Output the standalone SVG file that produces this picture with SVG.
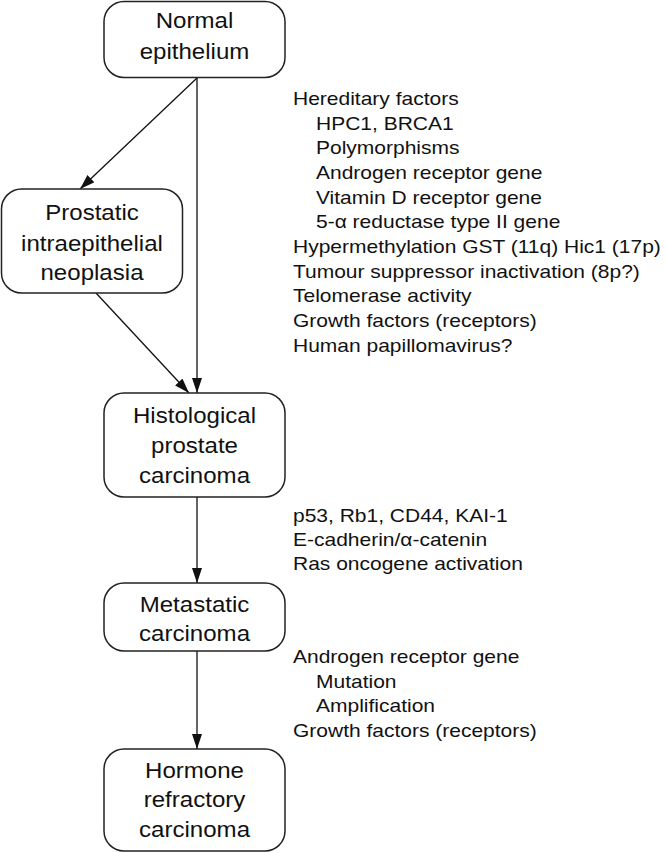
<svg xmlns="http://www.w3.org/2000/svg" width="666" height="853" viewBox="0 0 666 853">
<style>
.box{fill:#fff;stroke:#222;stroke-width:1.5}
.bt{font-family:"Liberation Sans",Arial,sans-serif;font-size:21.5px;fill:#111;text-anchor:middle}
.lt{font-family:"Liberation Sans",Arial,sans-serif;font-size:17.8px;fill:#111}
.con{stroke:#111;stroke-width:1.3;fill:none;marker-end:url(#ah)}
</style>
<defs>
<marker id="ah" viewBox="0 0 15 10" refX="15" refY="5" markerWidth="15" markerHeight="10" markerUnits="userSpaceOnUse" orient="auto">
<path d="M0,0 L15,5 L0,10 Z" fill="#111"/>
</marker>
</defs>
<rect width="666" height="853" fill="#fff"/>
<g id="connectors">
<line class="con" x1="197" y1="78" x2="80" y2="189"/>
<line class="con" x1="197" y1="78" x2="197" y2="393"/>
<line class="con" x1="96" y1="293" x2="189" y2="393"/>
<line class="con" x1="197" y1="497" x2="197" y2="583"/>
<line class="con" x1="197" y1="651" x2="197" y2="749"/>
</g>
<g id="normal">
<rect class="box" x="104" y="1.5" width="181" height="76" rx="20"/>
<g transform="translate(194.5 0) scale(1.12 1)">
<text class="bt" x="0" y="28">Normal</text>
<text class="bt" x="0" y="59">epithelium</text>
</g>
</g>
<g id="pin">
<rect class="box" x="1.5" y="189" width="181" height="104" rx="20"/>
<g transform="translate(92 0) scale(1.12 1)">
<text class="bt" x="0" y="220">Prostatic</text>
<text class="bt" x="0" y="251">intraepithelial</text>
<text class="bt" x="0" y="280">neoplasia</text>
</g>
</g>
<g id="histological">
<rect class="box" x="104" y="393" width="181" height="104" rx="20"/>
<g transform="translate(194.5 0) scale(1.12 1)">
<text class="bt" x="0" y="423">Histological</text>
<text class="bt" x="0" y="453">prostate</text>
<text class="bt" x="0" y="483">carcinoma</text>
</g>
</g>
<g id="metastatic">
<rect class="box" x="104" y="583" width="181" height="68" rx="20"/>
<g transform="translate(194.5 0) scale(1.12 1)">
<text class="bt" x="0" y="612">Metastatic</text>
<text class="bt" x="0" y="641">carcinoma</text>
</g>
</g>
<g id="hormone">
<rect class="box" x="104" y="749" width="181" height="102" rx="20"/>
<g transform="translate(194.5 0) scale(1.12 1)">
<text class="bt" x="0" y="778">Hormone</text>
<text class="bt" x="0" y="807">refractory</text>
<text class="bt" x="0" y="837">carcinoma</text>
</g>
</g>
<g id="factors1" class="lt" transform="translate(293 0) scale(1.18 1)">
<text x="0" y="105">Hereditary factors</text>
<text x="19.5" y="130">HPC1, BRCA1</text>
<text x="19.5" y="154">Polymorphisms</text>
<text x="19.5" y="179">Androgen receptor gene</text>
<text x="19.5" y="204">Vitamin D receptor gene</text>
<text x="19.5" y="228">5-α reductase type II gene</text>
<text x="0" y="253">Hypermethylation GST (11q) Hic1 (17p)</text>
<text x="0" y="278">Tumour suppressor inactivation (8p?)</text>
<text x="0" y="302">Telomerase activity</text>
<text x="0" y="327">Growth factors (receptors)</text>
<text x="0" y="352">Human papillomavirus?</text>
</g>
<g id="factors2" class="lt" transform="translate(293 0) scale(1.18 1)">
<text x="0" y="522">p53, Rb1, CD44, KAI-1</text>
<text x="0" y="546">E-cadherin/α-catenin</text>
<text x="0" y="570">Ras oncogene activation</text>
</g>
<g id="factors3" class="lt" transform="translate(293 0) scale(1.18 1)">
<text x="0" y="663">Androgen receptor gene</text>
<text x="19.5" y="688">Mutation</text>
<text x="19.5" y="712">Amplification</text>
<text x="0" y="737">Growth factors (receptors)</text>
</g>
</svg>
